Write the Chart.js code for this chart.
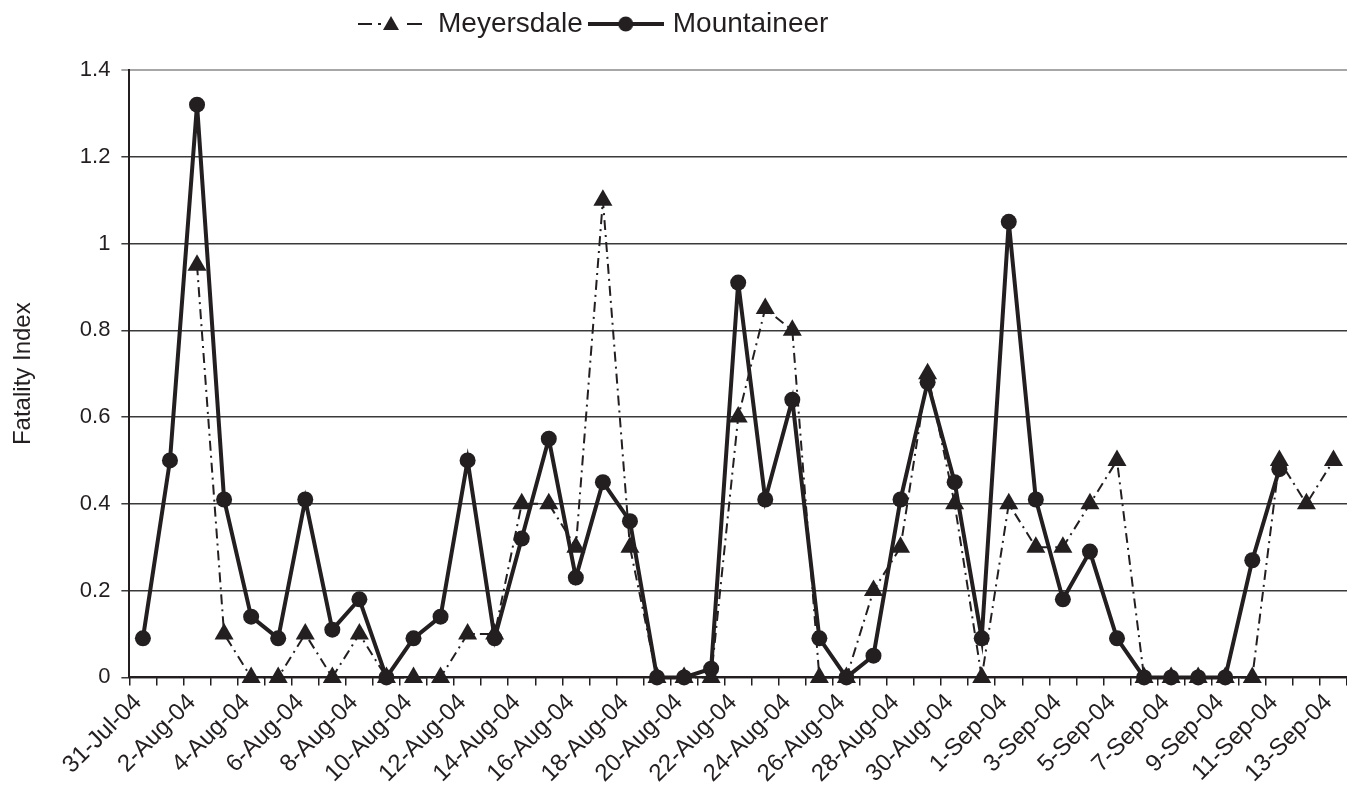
<!DOCTYPE html>
<html>
<head>
<meta charset="utf-8">
<script src="https://cdn.jsdelivr.net/npm/chart.js@4.4.1/dist/chart.umd.min.js"></script>
<style>
  html, body { margin: 0; padding: 0; background: #fff; overflow: hidden; }
  #wrap { width: 1347px; height: 800px; }
</style>
</head>
<body>
<div id="wrap"><canvas id="myChart"></canvas></div>
<script>
// one label per day, 31 Jul to 13 Sep 2004
const dates = [
  '31-Jul-04',
  '1-Aug-04', '2-Aug-04', '3-Aug-04', '4-Aug-04', '5-Aug-04', '6-Aug-04', '7-Aug-04', '8-Aug-04',
  '9-Aug-04', '10-Aug-04', '11-Aug-04', '12-Aug-04', '13-Aug-04', '14-Aug-04', '15-Aug-04', '16-Aug-04',
  '17-Aug-04', '18-Aug-04', '19-Aug-04', '20-Aug-04', '21-Aug-04', '22-Aug-04', '23-Aug-04', '24-Aug-04',
  '25-Aug-04', '26-Aug-04', '27-Aug-04', '28-Aug-04', '29-Aug-04', '30-Aug-04', '31-Aug-04',
  '1-Sep-04', '2-Sep-04', '3-Sep-04', '4-Sep-04', '5-Sep-04', '6-Sep-04', '7-Sep-04', '8-Sep-04',
  '9-Sep-04', '10-Sep-04', '11-Sep-04', '12-Sep-04', '13-Sep-04'
];

const meyersdale = [
  null, null, 0.95, 0.1, 0, 0, 0.1, 0, 0.1, 0, 0, 0, 0.1, 0.1, 0.4, 0.4,
  0.3, 1.1, 0.3, 0, 0, 0, 0.6, 0.85, 0.8, 0, 0, 0.2, 0.3, 0.7, 0.4, 0,
  0.4, 0.3, 0.3, 0.4, 0.5, 0, 0, 0, 0, 0, 0.5, 0.4, 0.5
];

const mountaineer = [
  0.09, 0.5, 1.32, 0.41, 0.14, 0.09, 0.41, 0.11, 0.18, 0, 0.09, 0.14, 0.5, 0.09, 0.32, 0.55,
  0.23, 0.45, 0.36, 0, 0, 0.02, 0.91, 0.41, 0.64, 0.09, 0, 0.05, 0.41, 0.68, 0.45, 0.09,
  1.05, 0.41, 0.18, 0.29, 0.09, 0, 0, 0, 0, 0.27, 0.48, null, null
];

const ink = '#231f20';
const font = "'Liberation Sans', Arial, Helvetica, sans-serif";

// little line+marker pictures for the legend, like the excel ones
function legendIcon(kind) {
  const c = document.createElement('canvas');
  c.width = kind === 'tri' ? 66 : 76;
  c.height = 24;
  const g = c.getContext('2d');
  g.strokeStyle = ink;
  g.fillStyle = ink;
  if (kind === 'tri') {
    g.lineWidth = 2;
    g.beginPath(); g.moveTo(0, 12); g.lineTo(14, 12); g.stroke();
    g.fillRect(20, 11, 3, 2);
    g.beginPath(); g.moveTo(49, 12); g.lineTo(64, 12); g.stroke();
    g.beginPath(); g.moveTo(33, 4); g.lineTo(41, 18); g.lineTo(25, 18); g.closePath(); g.fill();
  } else {
    g.lineWidth = 4;
    g.beginPath(); g.moveTo(0, 12); g.lineTo(76, 12); g.stroke();
    g.beginPath(); g.arc(38, 12, 7.5, 0, Math.PI * 2); g.fill();
  }
  return c;
}
const icons = [legendIcon('tri'), legendIcon('dot')];

const legendPlace = {
  id: 'legendPlace',
  beforeLayout(chart) {
    const lg = chart.legend;
    if (lg && !lg._patched) {
      const fit = lg.fit;
      lg.fit = function () { fit.call(this); this.height += 22; };
      lg._patched = true;
    }
  },
  afterLayout(chart) {
    const lg = chart.legend;
    const w = lg.right - lg.left;
    lg.left = 348;
    lg.right = 348 + w;
  }
};

const ctx = document.getElementById('myChart');

const myChart = new Chart(ctx, {
  type: 'line',
  data: {
    labels: dates,
    datasets: [
      {
        label: 'Meyersdale',
        data: meyersdale,
        order: 1,
        clip: false,
        borderColor: ink,
        backgroundColor: ink,
        borderWidth: 2,
        borderDash: [10, 5, 2, 5],
        pointStyle: 'triangle',
        pointRadius: 11,
        pointBorderWidth: 0,
        pointBackgroundColor: ink,
        tension: 0
      },
      {
        label: 'Mountaineer',
        data: mountaineer,
        order: 0,
        clip: false,
        borderColor: ink,
        backgroundColor: ink,
        borderWidth: 4,
        pointStyle: 'circle',
        pointRadius: 8,
        pointBorderWidth: 0,
        pointBackgroundColor: ink,
        tension: 0
      }
    ]
  },
  options: {
    responsive: true,
    maintainAspectRatio: false,
    animation: false,
    layout: { autoPadding: false, padding: { left: 9, right: 0, top: 0, bottom: 9 } },
    plugins: {
      tooltip: { enabled: false },
      legend: {
        position: 'top',
        align: 'start',
        labels: {
          color: ink,
          font: { family: font, size: 28 },
          usePointStyle: true,
          pointStyleWidth: 66,
          padding: 10,
          generateLabels(chart) {
            return chart.data.datasets.map((ds, i) => ({
              text: ds.label,
              datasetIndex: i,
              pointStyle: icons[i],
              fillStyle: ink,
              strokeStyle: ink,
              fontColor: ink,
              lineWidth: 0,
              hidden: false
            }));
          }
        }
      }
    },
    scales: {
      x: {
        offset: true,
        afterFit(scale) {
          // plot runs right up to the edge of the picture
          scale.paddingRight = 0;
        },
        grid: {
          offset: true,
          drawOnChartArea: false,
          drawTicks: true,
          tickLength: 8,
          color: ink,
          lineWidth: 1.5
        },
        border: { color: ink, width: 2 },
        ticks: {
          autoSkip: false,
          maxRotation: 45,
          minRotation: 45,
          padding: 3,
          labelOffset: -5,
          color: ink,
          font: { family: font, size: 24 },
          callback(value, index) {
            return index % 2 === 0 ? dates[index] : '';
          }
        }
      },
      y: {
        min: 0,
        max: 1.4,
        ticks: {
          stepSize: 0.2,
          padding: 11,
          color: ink,
          font: { family: font, size: 22 },
          callback: (v) => String(Number(v.toFixed(1)))
        },
        grid: {
          tickLength: 8,
          color: (c) => (c.tick && c.tick.value > 1.39 ? '#a7a7a7' : '#3a3a3a'),
          lineWidth: (c) => (c.tick && c.tick.value > 1.39 ? 2 : 1.5)
        },
        border: { color: ink, width: 2 },
        title: {
          display: true,
          text: 'Fatality Index',
          color: ink,
          font: { family: font, size: 24 },
          padding: { top: 0, bottom: 31 }
        }
      }
    }
  },
  plugins: [legendPlace]
});
</script>
</body>
</html>
